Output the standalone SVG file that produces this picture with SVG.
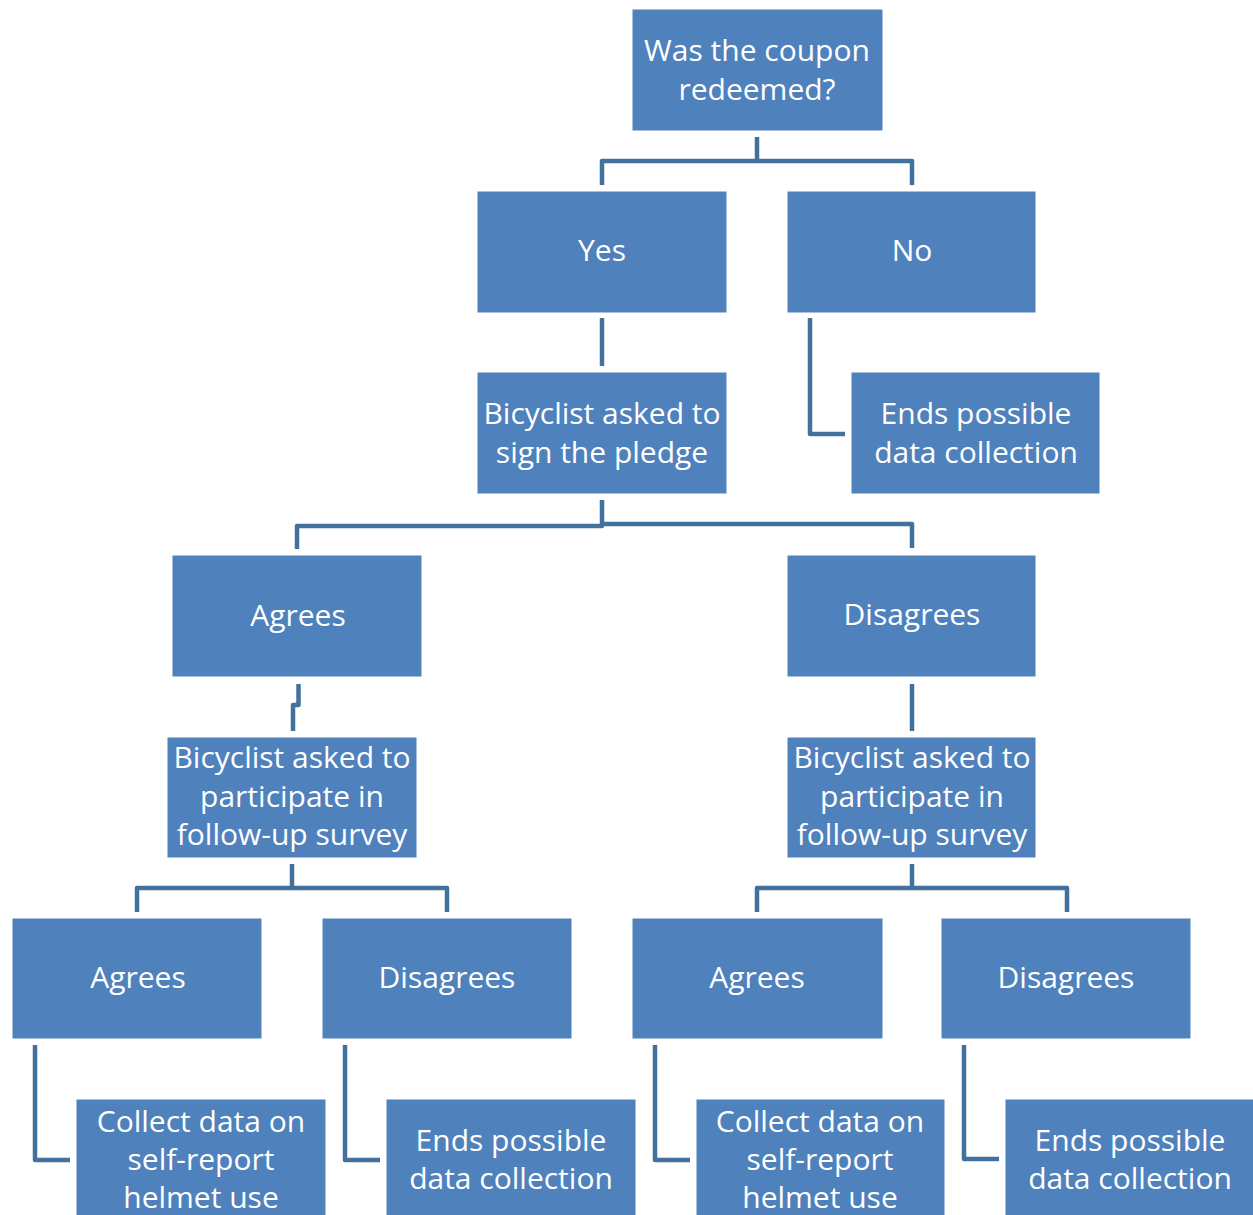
<svg xmlns="http://www.w3.org/2000/svg" width="1253" height="1215" viewBox="0 0 1253 1215">
<style>
.box{fill:#4F81BD;stroke:#FFFFFF;stroke-width:1}
.t{font-family:"Open Sans","Noto Sans",sans-serif;font-size:30px;fill:#FFFFFF;text-anchor:middle}
.c{fill:none;stroke:#41719C;stroke-width:4.5;stroke-linejoin:round}
</style>
<rect width="1253" height="1215" fill="#FFFFFF"/>
<g id="connectors">
<path class="c" d="M757,137 V161 H602 V185 M757,161 H912 V185"/>
<path class="c" d="M602,318 V366"/>
<path class="c" d="M810,318 V434 H845"/>
<path class="c" d="M602,500 V526 H297 V549 M602,524 H912 V548"/>
<path class="c" d="M298.5,684 V705 H293 V731"/>
<path class="c" d="M912,684 V731"/>
<path class="c" d="M292,864 V888 H137 V912 M292,888 H447 V912"/>
<path class="c" d="M912,864 V888 H757 V912 M912,888 H1067 V912"/>
<path class="c" d="M35,1045 V1160 H70"/>
<path class="c" d="M345,1045 V1160 H380"/>
<path class="c" d="M655,1045 V1160 H690"/>
<path class="c" d="M964,1045 V1159 H999"/>
</g>
<g id="n-root"><rect class="box" x="632" y="9" width="251" height="122"/><text class="t" x="757" y="61">Was the coupon</text><text class="t" x="757" y="100">redeemed?</text></g>
<g id="n-yes"><rect class="box" x="477" y="191" width="250" height="122"/><text class="t" x="602" y="261">Yes</text></g>
<g id="n-no"><rect class="box" x="787" y="191" width="249" height="122"/><text class="t" x="912" y="261">No</text></g>
<g id="n-pledge"><rect class="box" x="477" y="372" width="250" height="122"/><text class="t" x="602" y="424">Bicyclist asked to</text><text class="t" x="602" y="463">sign the pledge</text></g>
<g id="n-ends1"><rect class="box" x="851" y="372" width="249" height="122"/><text class="t" x="976" y="424">Ends possible</text><text class="t" x="976" y="463">data collection</text></g>
<g id="n-agrees1"><rect class="box" x="172" y="555" width="250" height="122"/><text class="t" x="298" y="626">Agrees</text></g>
<g id="n-disagrees1"><rect class="box" x="787" y="555" width="249" height="122"/><text class="t" x="912" y="625">Disagrees</text></g>
<g id="n-survey1"><rect class="box" x="167" y="737" width="250" height="121"/><text class="t" x="292" y="768">Bicyclist asked to</text><text class="t" x="292" y="807">participate in</text><text class="t" x="292" y="845">follow-up survey</text></g>
<g id="n-survey2"><rect class="box" x="787" y="737" width="249" height="121"/><text class="t" x="912" y="768">Bicyclist asked to</text><text class="t" x="912" y="807">participate in</text><text class="t" x="912" y="845">follow-up survey</text></g>
<g id="n-agrees2"><rect class="box" x="12" y="918" width="250" height="121"/><text class="t" x="138" y="988">Agrees</text></g>
<g id="n-disagrees2"><rect class="box" x="322" y="918" width="250" height="121"/><text class="t" x="447" y="988">Disagrees</text></g>
<g id="n-agrees3"><rect class="box" x="632" y="918" width="251" height="121"/><text class="t" x="757" y="988">Agrees</text></g>
<g id="n-disagrees3"><rect class="box" x="941" y="918" width="250" height="121"/><text class="t" x="1066" y="988">Disagrees</text></g>
<g id="n-collect1"><rect class="box" x="76" y="1099" width="250" height="130"/><text class="t" x="201" y="1132">Collect data on</text><text class="t" x="201" y="1170">self-report</text><text class="t" x="201" y="1208">helmet use</text></g>
<g id="n-ends2"><rect class="box" x="386" y="1099" width="250" height="130"/><text class="t" x="511" y="1151">Ends possible</text><text class="t" x="511" y="1189">data collection</text></g>
<g id="n-collect2"><rect class="box" x="696" y="1099" width="249" height="130"/><text class="t" x="820" y="1132">Collect data on</text><text class="t" x="820" y="1170">self-report</text><text class="t" x="820" y="1208">helmet use</text></g>
<g id="n-ends3"><rect class="box" x="1005" y="1099" width="260" height="130"/><text class="t" x="1130" y="1151">Ends possible</text><text class="t" x="1130" y="1189">data collection</text></g>
</svg>
